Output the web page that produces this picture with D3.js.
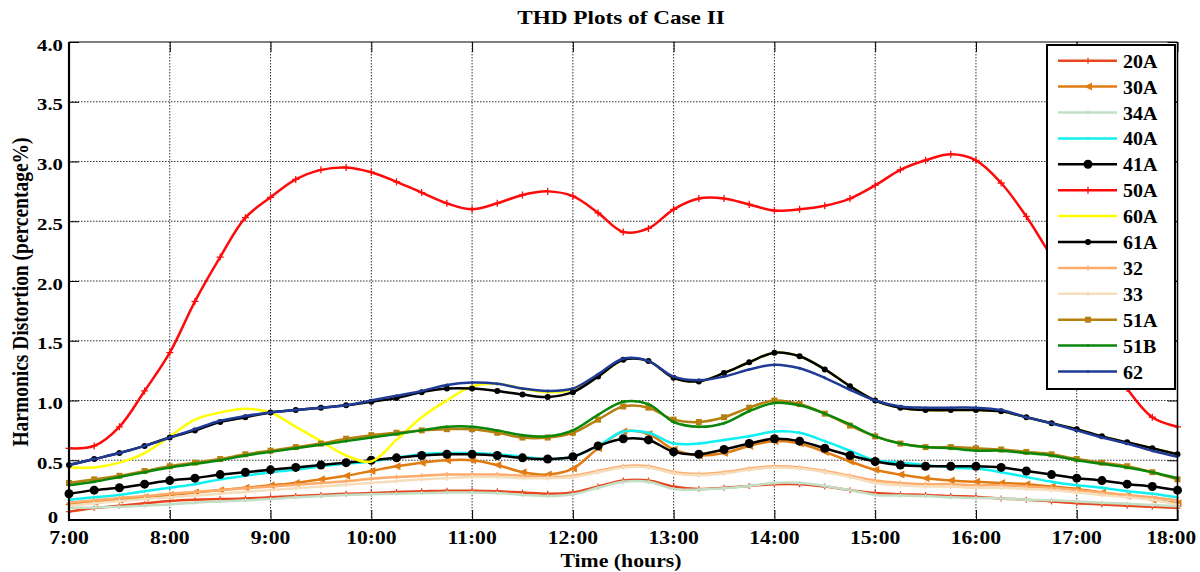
<!DOCTYPE html>
<html><head><meta charset="utf-8">
<script src="https://cdn.jsdelivr.net/npm/d3@7"></script>
<style>html,body{margin:0;padding:0;background:#fff;}svg{display:block;}</style>
</head><body>
<svg id="chart" width="1200" height="572"></svg>
<script>
// ---------- data (15-minute readings, 7:00 .. 18:00) ----------
const times = ["7:00","7:15","7:30","7:45","8:00","8:15","8:30","8:45","9:00","9:15","9:30","9:45",
"10:00","10:15","10:30","10:45","11:00","11:15","11:30","11:45","12:00","12:15","12:30","12:45",
"13:00","13:15","13:30","13:45","14:00","14:15","14:30","14:45","15:00","15:15","15:30","15:45",
"16:00","16:15","16:30","16:45","17:00","17:15","17:30","17:45","18:00"];

const seriesNames = ["20A","30A","34A","40A","41A","50A","60A","61A","32","33","51A","51B","62"];

const s20A = [0.07,0.10,0.12,0.14,0.16,0.17,0.175,0.18,0.19,0.20,0.21,0.22,0.225,0.235,0.24,0.245,0.245,0.24,0.23,0.22,0.23,0.28,0.33,0.33,0.28,0.26,0.27,0.285,0.30,0.30,0.28,0.25,0.225,0.215,0.21,0.20,0.195,0.18,0.17,0.155,0.14,0.13,0.12,0.11,0.10];
const s30A = [0.13,0.15,0.17,0.19,0.21,0.23,0.25,0.27,0.29,0.31,0.34,0.37,0.41,0.45,0.48,0.50,0.50,0.46,0.40,0.38,0.43,0.60,0.74,0.72,0.59,0.54,0.56,0.62,0.66,0.64,0.57,0.49,0.42,0.38,0.35,0.33,0.32,0.31,0.30,0.28,0.26,0.23,0.20,0.17,0.14];
const s34A = [0.10,0.105,0.11,0.12,0.13,0.145,0.155,0.165,0.175,0.19,0.20,0.21,0.215,0.22,0.225,0.23,0.23,0.225,0.21,0.20,0.215,0.27,0.32,0.32,0.26,0.255,0.265,0.285,0.31,0.31,0.285,0.25,0.21,0.205,0.20,0.19,0.185,0.18,0.17,0.165,0.155,0.145,0.135,0.125,0.115];
const s40A = [0.17,0.19,0.21,0.24,0.27,0.30,0.34,0.37,0.40,0.42,0.45,0.47,0.49,0.52,0.55,0.56,0.56,0.55,0.53,0.51,0.53,0.62,0.74,0.73,0.64,0.64,0.67,0.70,0.74,0.73,0.66,0.58,0.50,0.48,0.46,0.44,0.43,0.40,0.36,0.32,0.29,0.27,0.24,0.22,0.19];
const s41A = [0.22,0.25,0.27,0.30,0.33,0.35,0.38,0.40,0.42,0.44,0.46,0.48,0.50,0.52,0.54,0.55,0.55,0.54,0.52,0.51,0.53,0.62,0.68,0.67,0.57,0.55,0.59,0.64,0.68,0.66,0.60,0.54,0.49,0.46,0.45,0.45,0.45,0.44,0.41,0.38,0.35,0.33,0.30,0.28,0.25];
const s50A = [0.60,0.62,0.78,1.08,1.40,1.83,2.20,2.53,2.70,2.85,2.93,2.95,2.91,2.83,2.74,2.65,2.60,2.65,2.72,2.75,2.71,2.57,2.41,2.44,2.60,2.69,2.69,2.64,2.59,2.60,2.63,2.69,2.80,2.93,3.01,3.06,3.01,2.82,2.54,2.20,1.85,1.45,1.10,0.86,0.78];
const s60A = [0.44,0.44,0.48,0.56,0.70,0.84,0.90,0.93,0.90,0.78,0.66,0.54,0.49,0.67,0.86,1.00,1.12,1.14,1.10,1.07,1.09,1.20,1.34,1.33,1.19,1.16,1.23,1.32,1.40,1.37,1.26,1.12,1.00,0.94,0.92,0.92,0.92,0.91,0.86,0.81,0.76,0.70,0.65,0.60,0.55];
const s61A = [0.46,0.51,0.56,0.62,0.69,0.75,0.82,0.86,0.90,0.92,0.94,0.96,0.99,1.02,1.07,1.10,1.10,1.08,1.05,1.03,1.07,1.20,1.34,1.33,1.19,1.16,1.23,1.32,1.40,1.37,1.26,1.12,1.00,0.94,0.92,0.92,0.92,0.91,0.86,0.81,0.76,0.70,0.65,0.60,0.55];
const s32  = [0.145,0.165,0.185,0.20,0.22,0.235,0.25,0.265,0.28,0.295,0.31,0.325,0.345,0.36,0.37,0.38,0.38,0.38,0.37,0.36,0.37,0.41,0.45,0.45,0.40,0.385,0.40,0.43,0.45,0.44,0.41,0.37,0.33,0.31,0.30,0.30,0.29,0.29,0.28,0.27,0.25,0.23,0.21,0.19,0.165];
const s33  = [0.12,0.14,0.16,0.175,0.19,0.205,0.22,0.235,0.25,0.265,0.28,0.295,0.31,0.325,0.34,0.35,0.36,0.36,0.35,0.35,0.36,0.40,0.44,0.44,0.39,0.375,0.39,0.42,0.44,0.43,0.40,0.36,0.31,0.29,0.28,0.28,0.27,0.27,0.26,0.25,0.23,0.21,0.19,0.17,0.13];
const s51A = [0.31,0.34,0.37,0.41,0.45,0.48,0.51,0.55,0.58,0.61,0.64,0.68,0.71,0.73,0.75,0.76,0.76,0.73,0.69,0.69,0.73,0.84,0.95,0.94,0.84,0.82,0.86,0.94,1.00,0.97,0.89,0.79,0.70,0.64,0.61,0.61,0.60,0.59,0.57,0.55,0.51,0.48,0.45,0.40,0.34];
const s51B = [0.29,0.32,0.36,0.40,0.44,0.47,0.50,0.54,0.57,0.60,0.63,0.66,0.69,0.72,0.75,0.78,0.78,0.75,0.71,0.70,0.75,0.88,0.99,0.97,0.82,0.78,0.81,0.91,0.98,0.96,0.89,0.80,0.70,0.64,0.61,0.60,0.58,0.58,0.56,0.54,0.50,0.47,0.44,0.40,0.35];
const s62  = [0.46,0.51,0.56,0.62,0.69,0.76,0.83,0.87,0.90,0.92,0.94,0.96,1.00,1.04,1.08,1.13,1.15,1.14,1.10,1.08,1.10,1.22,1.35,1.33,1.20,1.17,1.20,1.26,1.30,1.27,1.19,1.09,1.00,0.95,0.94,0.94,0.94,0.92,0.86,0.81,0.75,0.69,0.64,0.58,0.53];

const xTickLabels = ["7:00","8:00","9:00","10:00","11:00","12:00","13:00","14:00","15:00","16:00","17:00","18:00"];
const yTickValues = [0,0.5,1.0,1.5,2.0,2.5,3.0,3.5,4.0];
const yTickLabels = ["0","0.5","1.0","1.5","2.0","2.5","3.0","3.5","4.0"];

const titleText = "THD Plots of Case II";
const xTitle = "Time (hours)";
const yTitle = "Harmonics Distortion (percentage%)";

// ---------- styles ----------
const seriesValues = [s20A,s30A,s34A,s40A,s41A,s50A,s60A,s61A,s32,s33,s51A,s51B,s62];
const styles = {
  "20A":{color:"#e8461e", marker:"plus", size:3},
  "30A":{color:"#e07c12", marker:"triLeft", size:4},
  "34A":{color:"#c2dec4", marker:"plus", size:2},
  "40A":{color:"#10f0f0", marker:"plus", size:1.5},
  "41A":{color:"#000000", marker:"circle", size:4.5},
  "50A":{color:"#ff0a0a", marker:"plus", size:3.5},
  "60A":{color:"#ffff00", marker:"none", size:0},
  "61A":{color:"#000000", marker:"circle", size:3},
  "32": {color:"#ffab6b", marker:"plus", size:2.5},
  "33": {color:"#f6ddbb", marker:"plus", size:2.5},
  "51A":{color:"#b5800f", marker:"square", size:3},
  "51B":{color:"#0a870a", marker:"plus", size:1.5},
  "62": {color:"#1f3b96", marker:"plus", size:1.5}
};
const FONT = "'Liberation Serif','Times New Roman',Times,serif";

const svg = d3.select("#chart");
const pLeft = 69, pRight = 1177.5, pTop = 42, pBottom = 520;
const x = d3.scaleLinear().domain([7,18]).range([pLeft,pRight]);
const y = d3.scaleLinear().domain([0,4]).range([pBottom,pTop]);
const toHours = s => { const [h,m] = s.split(":").map(Number); return h + m/60; };
const xTickVals = xTickLabels.map(toHours);

function stext(g, px, py, s, size, anchor, sx, extra) {
  return g.append("text")
    .attr("transform", `translate(${px},${py}) scale(${sx},1)` + (extra||""))
    .attr("text-anchor", anchor)
    .style("font-family", FONT).style("font-weight","bold").style("font-size", size+"px")
    .attr("fill","#000").text(s);
}

// grid
const grid = svg.append("g");
grid.selectAll("line.v").data(xTickVals.slice(1,-1)).join("line")
  .attr("x1", d=>x(d)).attr("x2", d=>x(d)).attr("y1", pTop).attr("y2", pBottom)
  .attr("stroke","#333").attr("stroke-width",1).attr("stroke-dasharray","1.5,1.5");
grid.selectAll("line.h").data(yTickValues.slice(1,-1)).join("line")
  .attr("x1", pLeft).attr("x2", pRight).attr("y1", d=>y(d)).attr("y2", d=>y(d))
  .attr("stroke","#333").attr("stroke-width",1).attr("stroke-dasharray","1.5,1.5");

// inward ticks on all sides
const tick = 10;
const ax = svg.append("g");
ax.append("g").attr("transform",`translate(0,${pBottom})`).call(d3.axisBottom(x).tickValues(xTickVals).tickSize(-tick).tickFormat(""));
ax.append("g").attr("transform",`translate(0,${pTop})`).call(d3.axisTop(x).tickValues(xTickVals).tickSize(-tick).tickFormat(""));
ax.append("g").attr("transform",`translate(${pLeft},0)`).call(d3.axisLeft(y).tickValues(yTickValues).tickSize(-tick).tickFormat(""));
ax.append("g").attr("transform",`translate(${pRight},0)`).call(d3.axisRight(y).tickValues(yTickValues).tickSize(-tick).tickFormat(""));
ax.selectAll(".domain").remove();
ax.selectAll(".tick line").attr("stroke","#000").attr("stroke-width",1);

// series
const line = d3.line().x(d=>x(d.t)).y(d=>y(d.v)).curve(d3.curveCatmullRom.alpha(0.5));
const plot = svg.append("g");
function drawMarker(g, type, cx, cy, size, color) {
  if (type === "circle") g.append("circle").attr("cx",cx).attr("cy",cy).attr("r",size).attr("fill",color);
  else if (type === "square") g.append("rect").attr("x",cx-size).attr("y",cy-size).attr("width",2*size).attr("height",2*size).attr("fill",color);
  else if (type === "triLeft") g.append("path").attr("d",`M${cx-size},${cy}L${cx+size},${cy-size}L${cx+size},${cy+size}Z`).attr("fill",color);
  else if (type === "plus") g.append("path").attr("d",`M${cx-size},${cy}H${cx+size}M${cx},${cy-size}V${cy+size}`).attr("stroke",color).attr("stroke-width",1.3);
}
seriesNames.forEach((name,i) => {
  const st = styles[name];
  const pts = seriesValues[i].map((v,j)=>({t:toHours(times[j]), v}));
  const g = plot.append("g");
  g.append("path").datum(pts).attr("d", line).attr("fill","none")
    .attr("stroke", st.color).attr("stroke-width", 2.5).attr("stroke-linejoin","round");
  if (st.marker !== "none") pts.forEach(p => drawMarker(g, st.marker, x(p.t), y(p.v), st.size, st.color));
});

// frame
svg.append("line").attr("x1",pLeft).attr("x2",pLeft).attr("y1",pTop).attr("y2",pBottom+1).attr("stroke","#000").attr("stroke-width",2.2);
svg.append("line").attr("x1",pLeft-1).attr("x2",pRight+1).attr("y1",pBottom).attr("y2",pBottom).attr("stroke","#000").attr("stroke-width",2.2);
svg.append("line").attr("x1",pLeft).attr("x2",pRight).attr("y1",pTop).attr("y2",pTop).attr("stroke","#000").attr("stroke-width",1.2);
svg.append("line").attr("x1",pRight).attr("x2",pRight).attr("y1",pTop).attr("y2",pBottom).attr("stroke","#000").attr("stroke-width",1.5);

// tick labels
const labels = svg.append("g");
yTickValues.forEach((v,i) => {
  if (v === 0) stext(labels, 58, y(v)+3, yTickLabels[i], 17, "end", 1.22);
  else stext(labels, 63, y(v)+8.5, yTickLabels[i], 17, "end", 1.22);
});
xTickVals.forEach((v,i) => {
  const last = i === xTickVals.length - 1;
  if (last) stext(labels, 1196, 544, xTickLabels[i], 18, "end", 1.18);
  else stext(labels, x(v), 544, xTickLabels[i], 18, "middle", 1.2);
});

// titles
stext(svg, 621, 24, titleText, 18, "middle", 1.29);
stext(svg, 621, 567, xTitle, 18, "middle", 1.21);
svg.append("text").attr("transform",`translate(28,${(pTop+pBottom)/2+11}) scale(1.2,1) rotate(-90)`)
  .attr("text-anchor","middle").style("font-family",FONT).style("font-weight","bold").style("font-size","19.5px").text(yTitle);

// legend
const lg = svg.append("g");
const lgX0 = 1047, lgX1 = 1175, lgY0 = 45, lgY1 = 389;
lg.append("rect").attr("x",lgX0).attr("y",lgY0).attr("width",lgX1-lgX0).attr("height",lgY1-lgY0)
  .attr("fill","#fff").attr("stroke","#000").attr("stroke-width",2);
seriesNames.forEach((name,i) => {
  const st = styles[name];
  const ly = 60.7 + i*25.9;
  lg.append("line").attr("x1",1058).attr("x2",1117).attr("y1",ly).attr("y2",ly).attr("stroke",st.color).attr("stroke-width",2.5);
  if (st.marker !== "none") drawMarker(lg, st.marker, 1088, ly, st.size, st.color);
  stext(lg, 1123, ly+7, name, 19, "start", 1.05);
});
</script>
</body></html>
